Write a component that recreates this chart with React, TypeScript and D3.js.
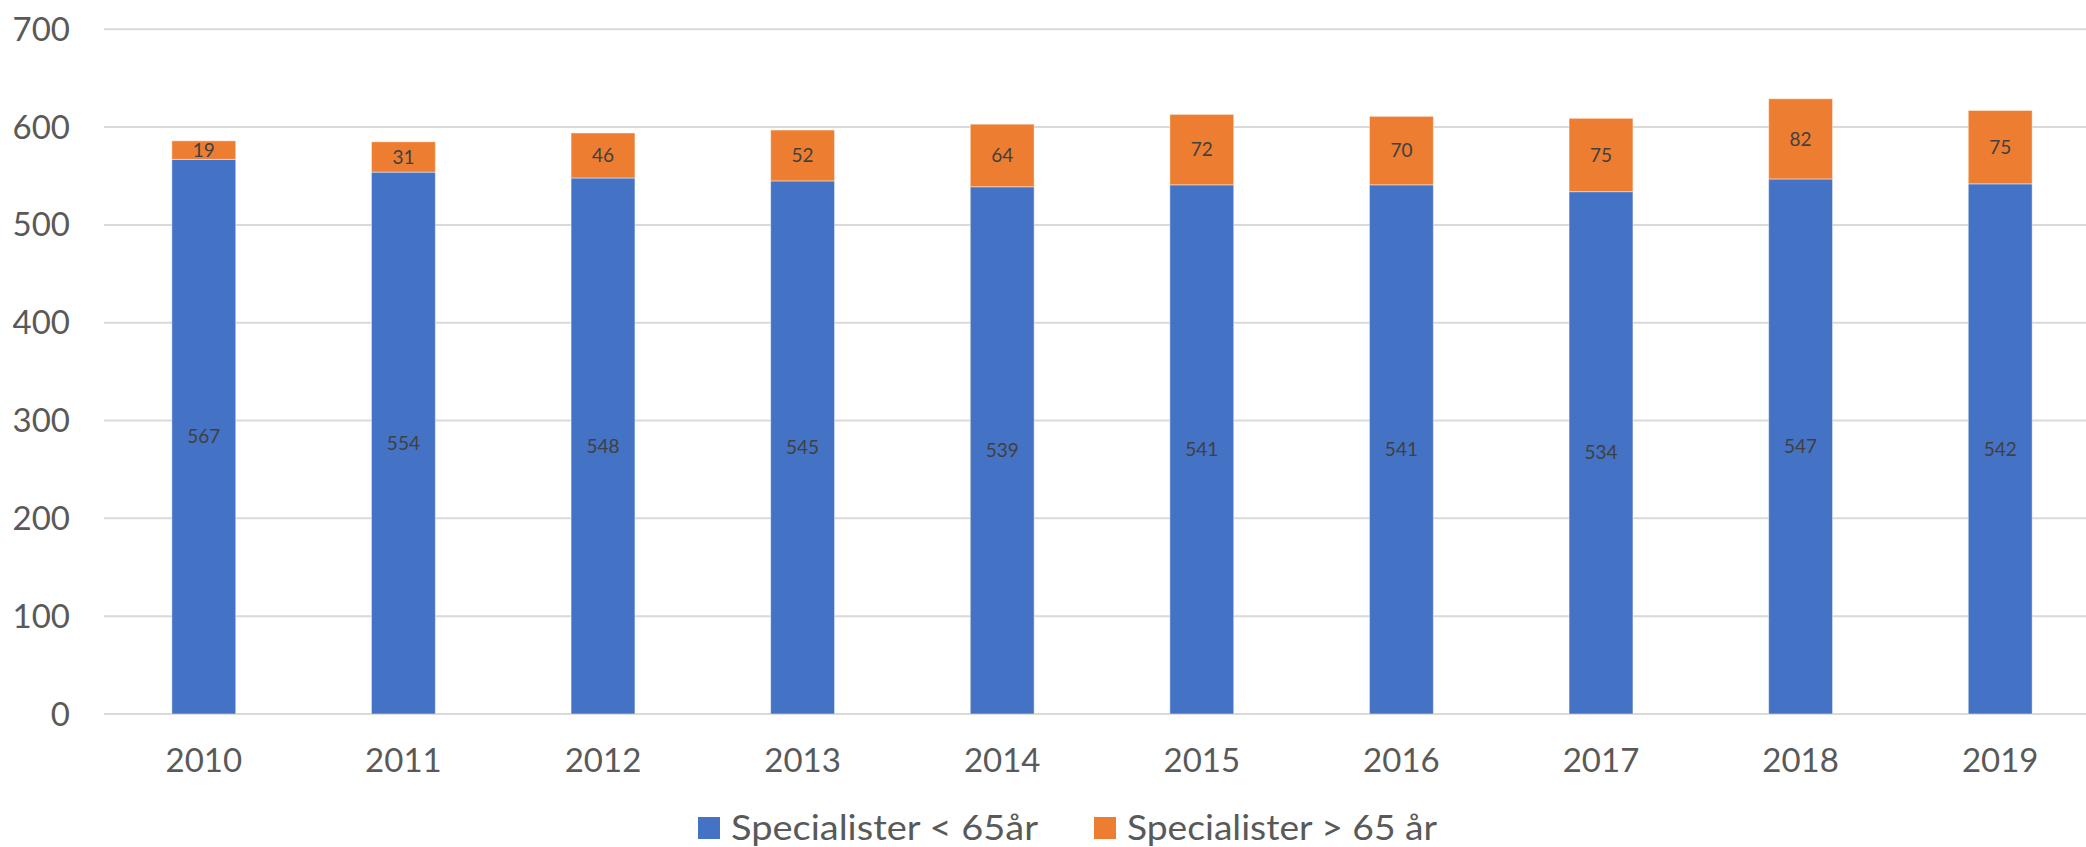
import React, { useEffect, useRef } from 'react';
import * as d3 from 'd3';

// data
const years = ['2010', '2011', '2012', '2013', '2014', '2015', '2016', '2017', '2018', '2019'];
const under65 = [567, 554, 548, 545, 539, 541, 541, 534, 547, 542];
const over65 = [19, 31, 46, 52, 64, 72, 70, 75, 82, 75];
const yTicks = [0, 100, 200, 300, 400, 500, 600, 700];
const seriesNames = ['Specialister < 65år', 'Specialister > 65 år'];
const seriesColors = ['#4472C4', '#ED7D31'];

const W = 2086;
const H = 847;
const FONT = 'Lato, "Open Sans", sans-serif';

const App = () => {
  const ref = useRef<SVGSVGElement>(null);

  useEffect(() => {
    document.body.style.margin = '0';
    drawChart(ref.current);
  }, []);

  return <svg ref={ref} width={W} height={H} style={{ display: 'block', background: '#fff' }} />;
};

const drawChart = (node: SVGSVGElement | null) => {
  if (!node) return;
  const svg = d3.select(node);
  svg.selectAll('*').remove();

  // plot area (chart is clipped on the right in the original)
  const x = d3.scaleBand().domain(years).range([104, 2100]).paddingInner(0.68).paddingOuter(0.34);
  const y = d3.scaleLinear().domain([0, 700]).range([714, 29.3]);

  // gridlines
  svg
    .append('g')
    .selectAll('line')
    .data(yTicks)
    .enter()
    .append('line')
    .attr('x1', 104)
    .attr('x2', W)
    .attr('y1', d => y(d))
    .attr('y2', d => y(d))
    .attr('stroke', '#d9d9d9')
    .attr('stroke-width', 2);

  // y labels
  svg
    .append('g')
    .selectAll('text')
    .data(yTicks)
    .enter()
    .append('text')
    .attr('x', 70)
    .attr('y', d => y(d))
    .attr('dy', '0.35em')
    .attr('text-anchor', 'end')
    .attr('font-family', FONT)
    .attr('font-size', 33)
    .attr('fill', '#595959')
    .text(d => d);

  // stacked data
  const rows = years.map((yr, i) => ({ year: yr, a: under65[i], b: over65[i] }));
  const stack = d3.stack<any>().keys(['a', 'b'])(rows);

  const groups = svg
    .append('g')
    .selectAll('g')
    .data(stack)
    .enter()
    .append('g')
    .attr('fill', (d, i) => seriesColors[i]);

  groups
    .selectAll('rect')
    .data(d => d)
    .enter()
    .append('rect')
    .attr('x', d => x(d.data.year)!)
    .attr('width', x.bandwidth())
    .attr('y', d => y(d[1]))
    .attr('height', d => y(d[0]) - y(d[1]))
    .attr('stroke', 'rgba(255,255,255,0.45)')
    .attr('stroke-width', 1);

  // data labels, centred in each segment
  groups
    .selectAll('text')
    .data(d => d)
    .enter()
    .append('text')
    .attr('x', d => x(d.data.year)! + x.bandwidth() / 2)
    .attr('y', d => (y(d[0]) + y(d[1])) / 2)
    .attr('dy', '0.35em')
    .attr('text-anchor', 'middle')
    .attr('font-family', FONT)
    .attr('font-size', 19)
    .attr('fill', '#404040')
    .text(d => d[1] - d[0]);

  // x labels
  svg
    .append('g')
    .selectAll('text')
    .data(years)
    .enter()
    .append('text')
    .attr('x', d => x(d)! + x.bandwidth() / 2)
    .attr('y', 760)
    .attr('dy', '0.35em')
    .attr('text-anchor', 'middle')
    .attr('font-family', FONT)
    .attr('font-size', 33)
    .attr('fill', '#595959')
    .text(d => d);

  // legend
  const legendX = [698, 1094];
  const legend = svg
    .append('g')
    .selectAll('g')
    .data(seriesNames)
    .enter()
    .append('g')
    .attr('transform', (d, i) => `translate(${legendX[i]},817)`);

  legend
    .append('rect')
    .attr('width', 22)
    .attr('height', 22)
    .attr('fill', (d, i) => seriesColors[i]);

  legend
    .append('text')
    .attr('x', 33)
    .attr('y', 11)
    .attr('dy', '0.35em')
    .attr('font-family', FONT)
    .attr('font-size', 34)
    .attr('fill', '#595959')
    .attr('textLength', (d, i) => (i === 0 ? 307 : 310))
    .attr('lengthAdjust', 'spacingAndGlyphs')
    .text(d => d);
};

export default App;
